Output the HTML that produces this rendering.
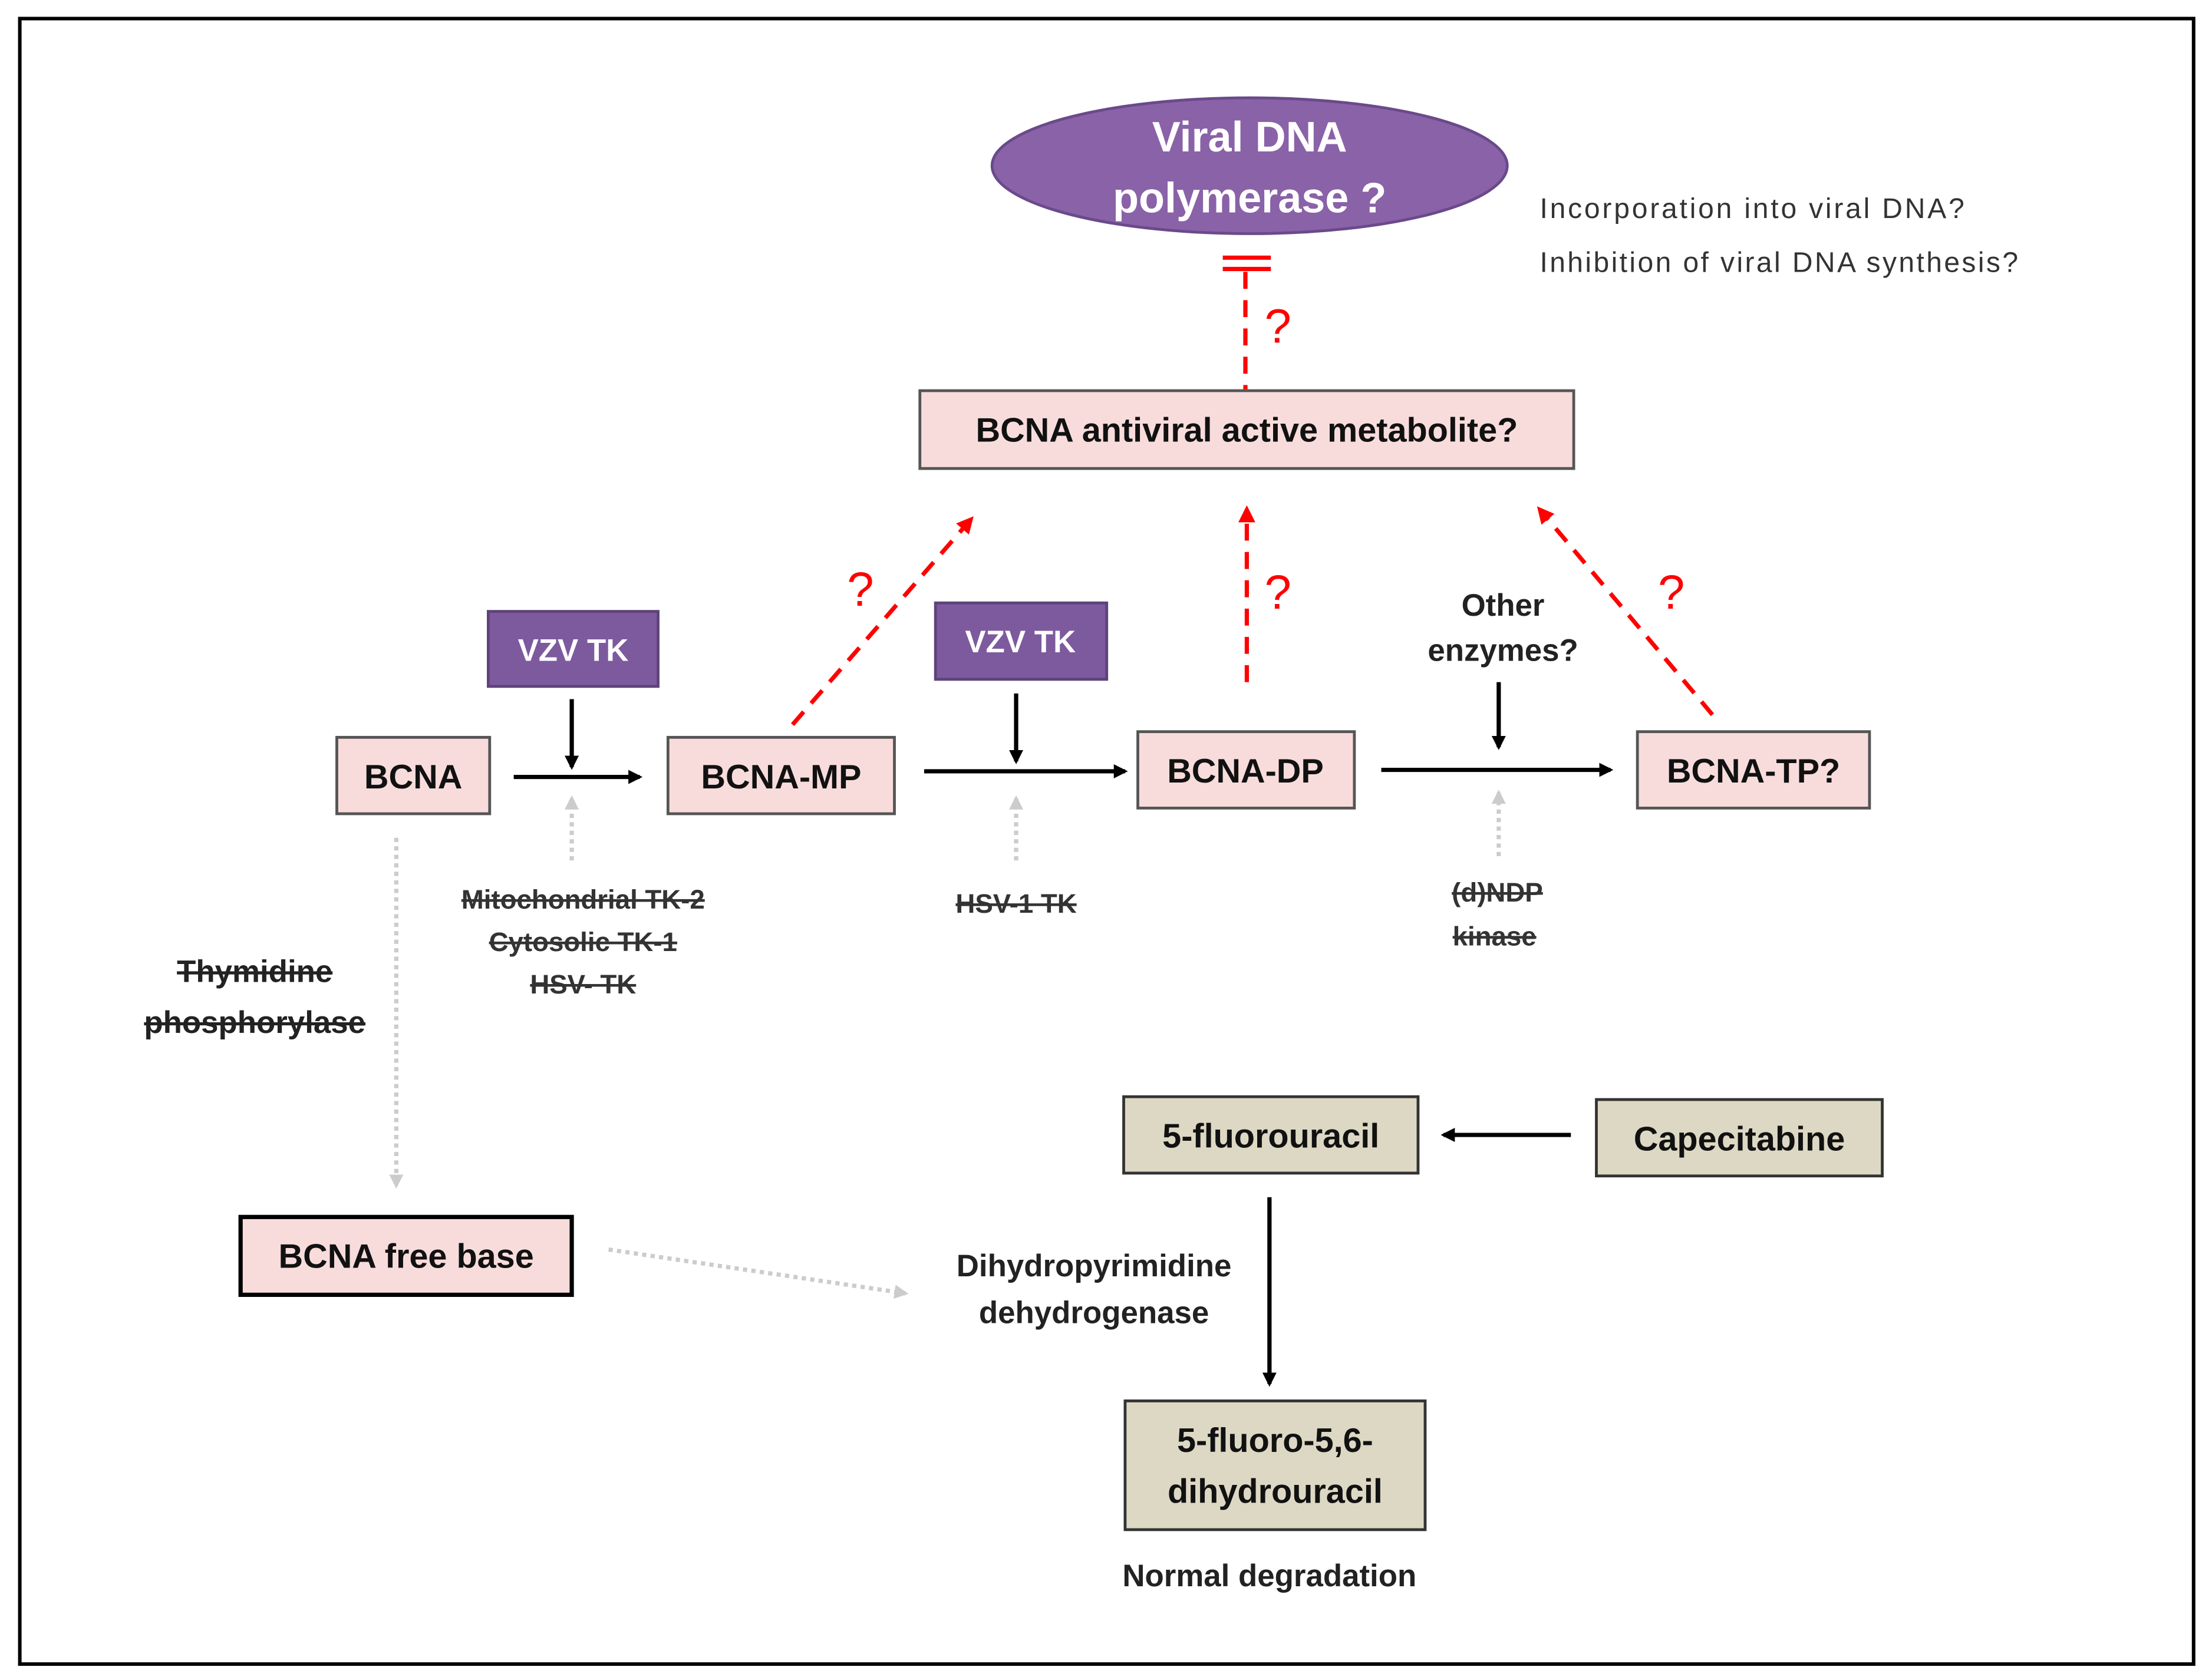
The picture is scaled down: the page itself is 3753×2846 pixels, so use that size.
<!DOCTYPE html>
<html><head><meta charset="utf-8"><style>
html,body{margin:0;padding:0;background:#fff}
svg{display:block}
text{font-family:"Liberation Sans",sans-serif}
</style></head><body>
<svg width="3753" height="2846" viewBox="0 0 1563 1185" xmlns="http://www.w3.org/2000/svg">
<defs>
<marker id="ab" markerWidth="10" markerHeight="10" refX="8" refY="5" orient="auto" markerUnits="userSpaceOnUse"><path d="M0,0 L10,5 L0,10 z" fill="#000"/></marker>
<marker id="ar" markerWidth="12" markerHeight="12" refX="9" refY="6" orient="auto" markerUnits="userSpaceOnUse"><path d="M0,0 L12,6 L0,12 z" fill="#f00"/></marker>
<marker id="ag" markerWidth="10" markerHeight="10" refX="8" refY="5" orient="auto" markerUnits="userSpaceOnUse"><path d="M0,0 L10,5 L0,10 z" fill="#ccc"/></marker>
</defs>
<rect x="0" y="0" width="1563" height="1185" fill="#fff"/>
<rect x="14" y="13" width="1536" height="1163" fill="none" stroke="#000" stroke-width="2.5"/>

<ellipse cx="883" cy="117" rx="182" ry="48" fill="#8a62a8" stroke="#6a4a8a" stroke-width="2"/>
<text x="883" y="107" text-anchor="middle" font-size="30" font-weight="bold" fill="#fff">Viral DNA</text>
<text x="883" y="150" text-anchor="middle" font-size="30" font-weight="bold" fill="#fff">polymerase ?</text>
<text x="1088" y="154" font-size="20" fill="#333" textLength="300">Incorporation into viral DNA?</text>
<text x="1088" y="192" font-size="20" fill="#333" textLength="338">Inhibition of viral DNA synthesis?</text>

<line x1="864" y1="182" x2="898" y2="182" stroke="#f00" stroke-width="3"/>
<line x1="864" y1="190" x2="898" y2="190" stroke="#f00" stroke-width="3"/>
<line x1="880" y1="192" x2="880" y2="275" stroke="#f00" stroke-width="3" stroke-dasharray="12,8"/>
<text x="903" y="242" text-anchor="middle" font-size="34" fill="#f00">?</text>

<rect x="650" y="276" width="462" height="55" fill="#f8dcdc" stroke="#555" stroke-width="2"/>
<text x="881" y="312" text-anchor="middle" font-size="24" font-weight="bold" fill="#111">BCNA antiviral active metabolite?</text>

<line x1="560" y1="512" x2="686" y2="367" stroke="#f00" stroke-width="3" stroke-dasharray="12,8" marker-end="url(#ar)"/>
<line x1="881" y1="482" x2="881" y2="360" stroke="#f00" stroke-width="3" stroke-dasharray="12,8" marker-end="url(#ar)"/>
<line x1="1210" y1="505" x2="1088" y2="360" stroke="#f00" stroke-width="3" stroke-dasharray="12,8" marker-end="url(#ar)"/>
<text x="608" y="428" text-anchor="middle" font-size="34" fill="#f00">?</text>
<text x="903" y="430" text-anchor="middle" font-size="34" fill="#f00">?</text>
<text x="1181" y="430" text-anchor="middle" font-size="34" fill="#f00">?</text>

<rect x="345" y="432" width="120" height="53" fill="#7d5a9e" stroke="#5e437a" stroke-width="2"/>
<text x="405" y="467" text-anchor="middle" font-size="22" font-weight="bold" fill="#fff">VZV TK</text>
<rect x="661" y="426" width="121" height="54" fill="#7d5a9e" stroke="#5e437a" stroke-width="2"/>
<text x="721" y="461" text-anchor="middle" font-size="22" font-weight="bold" fill="#fff">VZV TK</text>

<g fill="#f8dcdc" stroke="#555" stroke-width="2">
<rect x="238" y="521" width="108" height="54"/>
<rect x="472" y="521" width="160" height="54"/>
<rect x="804" y="517" width="153" height="54"/>
<rect x="1157" y="517" width="164" height="54"/>
</g>
<g font-size="24" font-weight="bold" fill="#111" text-anchor="middle">
<text x="292" y="557">BCNA</text>
<text x="552" y="557">BCNA-MP</text>
<text x="880" y="553">BCNA-DP</text>
<text x="1239" y="553">BCNA-TP?</text>
</g>

<g stroke="#000" stroke-width="3">
<line x1="363" y1="549" x2="452" y2="549" marker-end="url(#ab)"/>
<line x1="404" y1="494" x2="404" y2="542" marker-end="url(#ab)"/>
<line x1="653" y1="545" x2="795" y2="545" marker-end="url(#ab)"/>
<line x1="718" y1="490" x2="718" y2="538" marker-end="url(#ab)"/>
<line x1="976" y1="544" x2="1138" y2="544" marker-end="url(#ab)"/>
<line x1="1059" y1="482" x2="1059" y2="528" marker-end="url(#ab)"/>
</g>
<g stroke="#ccc" stroke-width="3" stroke-dasharray="3,3">
<line x1="404" y1="608" x2="404" y2="564" marker-end="url(#ag)"/>
<line x1="718" y1="608" x2="718" y2="564" marker-end="url(#ag)"/>
<line x1="1059" y1="605" x2="1059" y2="560" marker-end="url(#ag)"/>
<line x1="280" y1="592" x2="280" y2="838" marker-end="url(#ag)"/>
<line x1="430" y1="883" x2="640" y2="914" marker-end="url(#ag)"/>
</g>

<g font-size="19" font-weight="bold" fill="#333" text-anchor="middle">
<text x="412" y="642" text-decoration="line-through">Mitochondrial  TK-2</text>
<text x="412" y="672" text-decoration="line-through">Cytosolic TK-1</text>
<text x="412" y="702" text-decoration="line-through">HSV- TK</text>
<text x="718" y="645" text-decoration="line-through">HSV-1 TK</text>
<text x="1058" y="637" text-decoration="line-through">(d)NDP</text>
<text x="1056" y="668" text-decoration="line-through">kinase</text>
</g>
<g font-size="22" font-weight="bold" fill="#222" text-anchor="middle">
<text x="180" y="694" text-decoration="line-through">Thymidine</text>
<text x="180" y="730" text-decoration="line-through">phosphorylase</text>
</g>

<g font-size="22" font-weight="bold" fill="#222" text-anchor="middle">
<text x="1062" y="435">Other</text>
<text x="1062" y="467">enzymes?</text>
<text x="773" y="902">Dihydropyrimidine</text>
<text x="773" y="935">dehydrogenase</text>
<text x="897" y="1121">Normal degradation</text>
</g>

<rect x="170" y="860" width="234" height="55" fill="#f8dcdc" stroke="#000" stroke-width="3"/>
<text x="287" y="896" text-anchor="middle" font-size="24" font-weight="bold" fill="#111">BCNA free base</text>

<g fill="#ddd8c4" stroke="#333" stroke-width="2">
<rect x="794" y="775" width="208" height="54"/>
<rect x="1128" y="777" width="202" height="54"/>
<rect x="795" y="990" width="212" height="91"/>
</g>
<g font-size="24" font-weight="bold" fill="#111" text-anchor="middle">
<text x="898" y="811">5-fluorouracil</text>
<text x="1229" y="813">Capecitabine</text>
<text x="901" y="1026">5-fluoro-5,6-</text>
<text x="901" y="1062">dihydrouracil</text>
</g>
<g stroke="#000" stroke-width="3">
<line x1="1110" y1="802" x2="1020" y2="802" marker-end="url(#ab)"/>
<line x1="897" y1="846" x2="897" y2="978" marker-end="url(#ab)"/>
</g>
</svg>
</body></html>
